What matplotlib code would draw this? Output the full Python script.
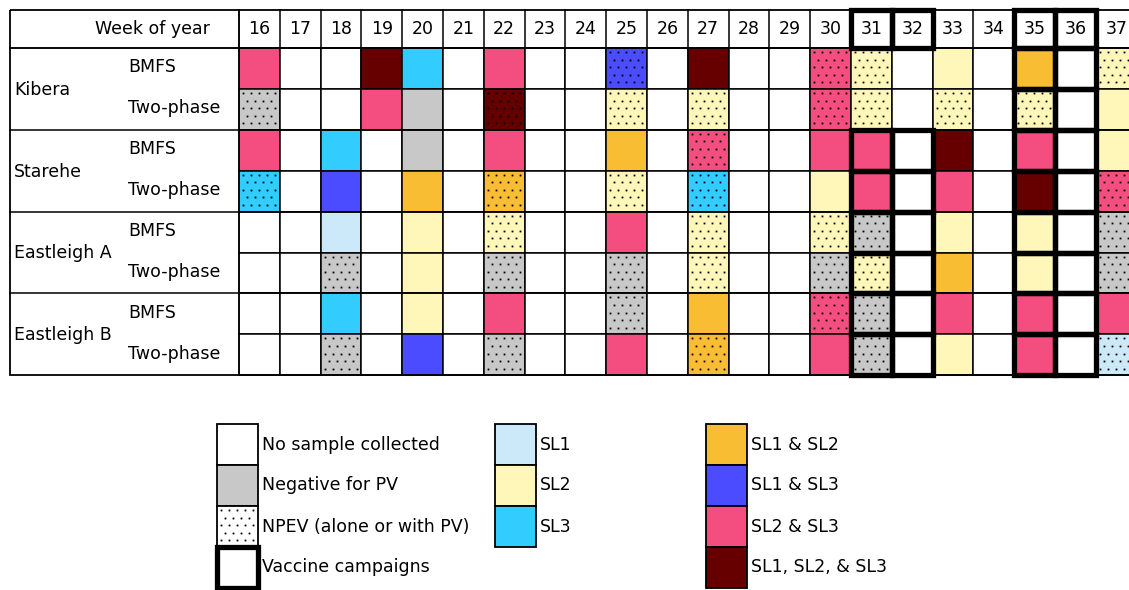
import numpy as np
import matplotlib.pyplot as plt
from matplotlib.patches import Rectangle

plt.rcParams['font.family'] = ['DejaVu Sans']

weeks = list(range(16, 38))
sites = ['Kibera', 'Starehe', 'Eastleigh A', 'Eastleigh B']
methods = ['BMFS', 'Two-phase']

# '-' no sample, 'N' negative for PV, digits = serotypes found, '+' = NPEV present
kibera_bmfs = ['23', '-', '-', '123', '3', '-', '23', '-', '-', '13+', '-', '123',
               '-', '-', '23+', '2+', '-', '2', '-', '12', '-', '2+']
kibera_two = ['N+', '-', '-', '23', 'N', '-', '123+', '-', '-', '2+', '-', '2+',
              '-', '-', '23+', '2+', '-', '2+', '-', '2+', '-', '2']
starehe_bmfs = ['23', '-', '3', '-', 'N', '-', '23', '-', '-', '12', '-', '23+',
                '-', '-', '23', '23', '-', '123', '-', '23', '-', '2']
starehe_two = ['3+', '-', '13', '-', '12', '-', '12+', '-', '-', '2+', '-', '3+',
               '-', '-', '2', '23', '-', '23', '-', '123', '-', '23+']
eastA_bmfs = ['-', '-', '1', '-', '2', '-', '2+', '-', '-', '23', '-', '2+',
              '-', '-', '2+', 'N+', '-', '2', '-', '2', '-', 'N+']
eastA_two = ['-', '-', 'N+', '-', '2', '-', 'N+', '-', '-', 'N+', '-', '2+',
             '-', '-', 'N+', '2+', '-', '12', '-', '2', '-', 'N+']
eastB_bmfs = ['-', '-', '3', '-', '2', '-', '23', '-', '-', 'N+', '-', '12',
              '-', '-', '23+', 'N+', '-', '23', '-', '23', '-', '23']
eastB_two = ['-', '-', 'N+', '-', '13', '-', 'N+', '-', '-', '23', '-', '12+',
             '-', '-', '23', 'N+', '-', '2', '-', '23', '-', '1+']
table = [kibera_bmfs, kibera_two, starehe_bmfs, starehe_two,
         eastA_bmfs, eastA_two, eastB_bmfs, eastB_two]

# vaccine campaigns: week -> sites covered
campaigns = {31: sites[1:], 32: sites[1:], 35: sites, 36: sites}

colors = {'-': 'white', 'N': '#c8c8c8', '1': '#cce9fa', '2': '#fff6b9',
          '3': '#33ccff', '12': '#f8bd33', '13': '#4b4bff', '23': '#f44e80',
          '123': '#660000'}

legend1 = [('-', 'No sample collected'), ('N', 'Negative for PV'),
           ('-+', 'NPEV (alone or with PV)'), ('camp', 'Vaccine campaigns')]
legend2 = [('1', 'SL1'), ('2', 'SL2'), ('3', 'SL3')]
legend3 = [('12', 'SL1 & SL2'), ('13', 'SL1 & SL3'), ('23', 'SL2 & SL3'),
           ('123', 'SL1, SL2, & SL3')]

# layout (pixels)
X0, XG, CW = 10, 239, 40.8
Y0, HH, RH = 10, 38, 40.9
FS = 12.5

fig = plt.figure(figsize=(11.29, 5.90), dpi=100)
ax = fig.add_axes([0, 0, 1, 1])
ax.set_xlim(0, 1129)
ax.set_ylim(590, 0)
ax.axis('off')


def dots(x, y, w, h):
    xs, ys = [], []
    for k, yy in enumerate(np.arange(y + 4, y + h - 2, 7.6)):
        off = 0 if k % 2 == 0 else 4
        for xx in np.arange(x + 4 + off, x + w - 2, 8):
            xs.append(xx)
            ys.append(yy)
    ax.plot(xs, ys, 's', color='black', ms=1.3, mew=0, zorder=3)


def cell(x, y, w, h, code, lw=1.1):
    base = code.rstrip('+')
    ax.add_patch(Rectangle((x, y), w, h, facecolor=colors[base],
                           edgecolor='black', lw=lw, zorder=2))
    if code.endswith('+'):
        dots(x, y, w, h)


# header
x_end = XG + CW * len(weeks)
y_end = Y0 + HH + RH * len(table)
ax.add_patch(Rectangle((X0, Y0), x_end - X0, y_end - Y0, fill=False,
                       edgecolor='black', lw=1.3, zorder=4))
ax.plot([X0, x_end], [Y0 + HH, Y0 + HH], color='black', lw=1.1, zorder=4)
ax.plot([XG, XG], [Y0, y_end], color='black', lw=1.1, zorder=4)
ax.text(152, Y0 + HH / 2, 'Week of year', ha='center', va='center',
        fontsize=FS)
for j, wk in enumerate(weeks):
    x = XG + j * CW
    ax.plot([x, x], [Y0, Y0 + HH], color='black', lw=1.1, zorder=4)
    ax.text(x + CW / 2, Y0 + HH / 2, str(wk), ha='center', va='center',
            fontsize=FS)

# row labels
for s, site in enumerate(sites):
    ys = Y0 + HH + 2 * s * RH
    ax.plot([X0, x_end], [ys, ys], color='black', lw=1.1, zorder=4)
    ax.text(X0 + 4, ys + RH + 1, site, ha='left', va='center', fontsize=FS)
    for m, meth in enumerate(methods):
        ax.text(128, ys + m * RH + RH / 2 - 1, meth, ha='left', va='center',
                fontsize=FS)

# cells
for i, row in enumerate(table):
    y = Y0 + HH + i * RH
    for j, code in enumerate(row):
        cell(XG + j * CW, y, CW, RH, code)

# campaign boxes
for wk, covered in campaigns.items():
    j = weeks.index(wk)
    x = XG + j * CW
    ax.add_patch(Rectangle((x, Y0), CW, HH, fill=False, edgecolor='black',
                           lw=3.8, zorder=5))
    for s, site in enumerate(sites):
        if site in covered:
            for m in range(2):
                y = Y0 + HH + (2 * s + m) * RH
                ax.add_patch(Rectangle((x, y), CW, RH, fill=False,
                                       edgecolor='black', lw=3.8, zorder=5))

# legend
LY, LH, LW = 424, 41, 41
for col_x, entries in [(217, legend1), (495, legend2), (706, legend3)]:
    for k, (code, label) in enumerate(entries):
        y = LY + k * LH
        if code == 'camp':
            ax.add_patch(Rectangle((col_x, y), LW, LH, facecolor='white',
                                   edgecolor='black', lw=3.8, zorder=5))
        else:
            cell(col_x, y, LW, LH, code, lw=1.3)
        ax.text(col_x + LW + 4, y + LH / 2, label, ha='left', va='center',
                fontsize=FS)

fig.savefig('out.png', dpi=100)
